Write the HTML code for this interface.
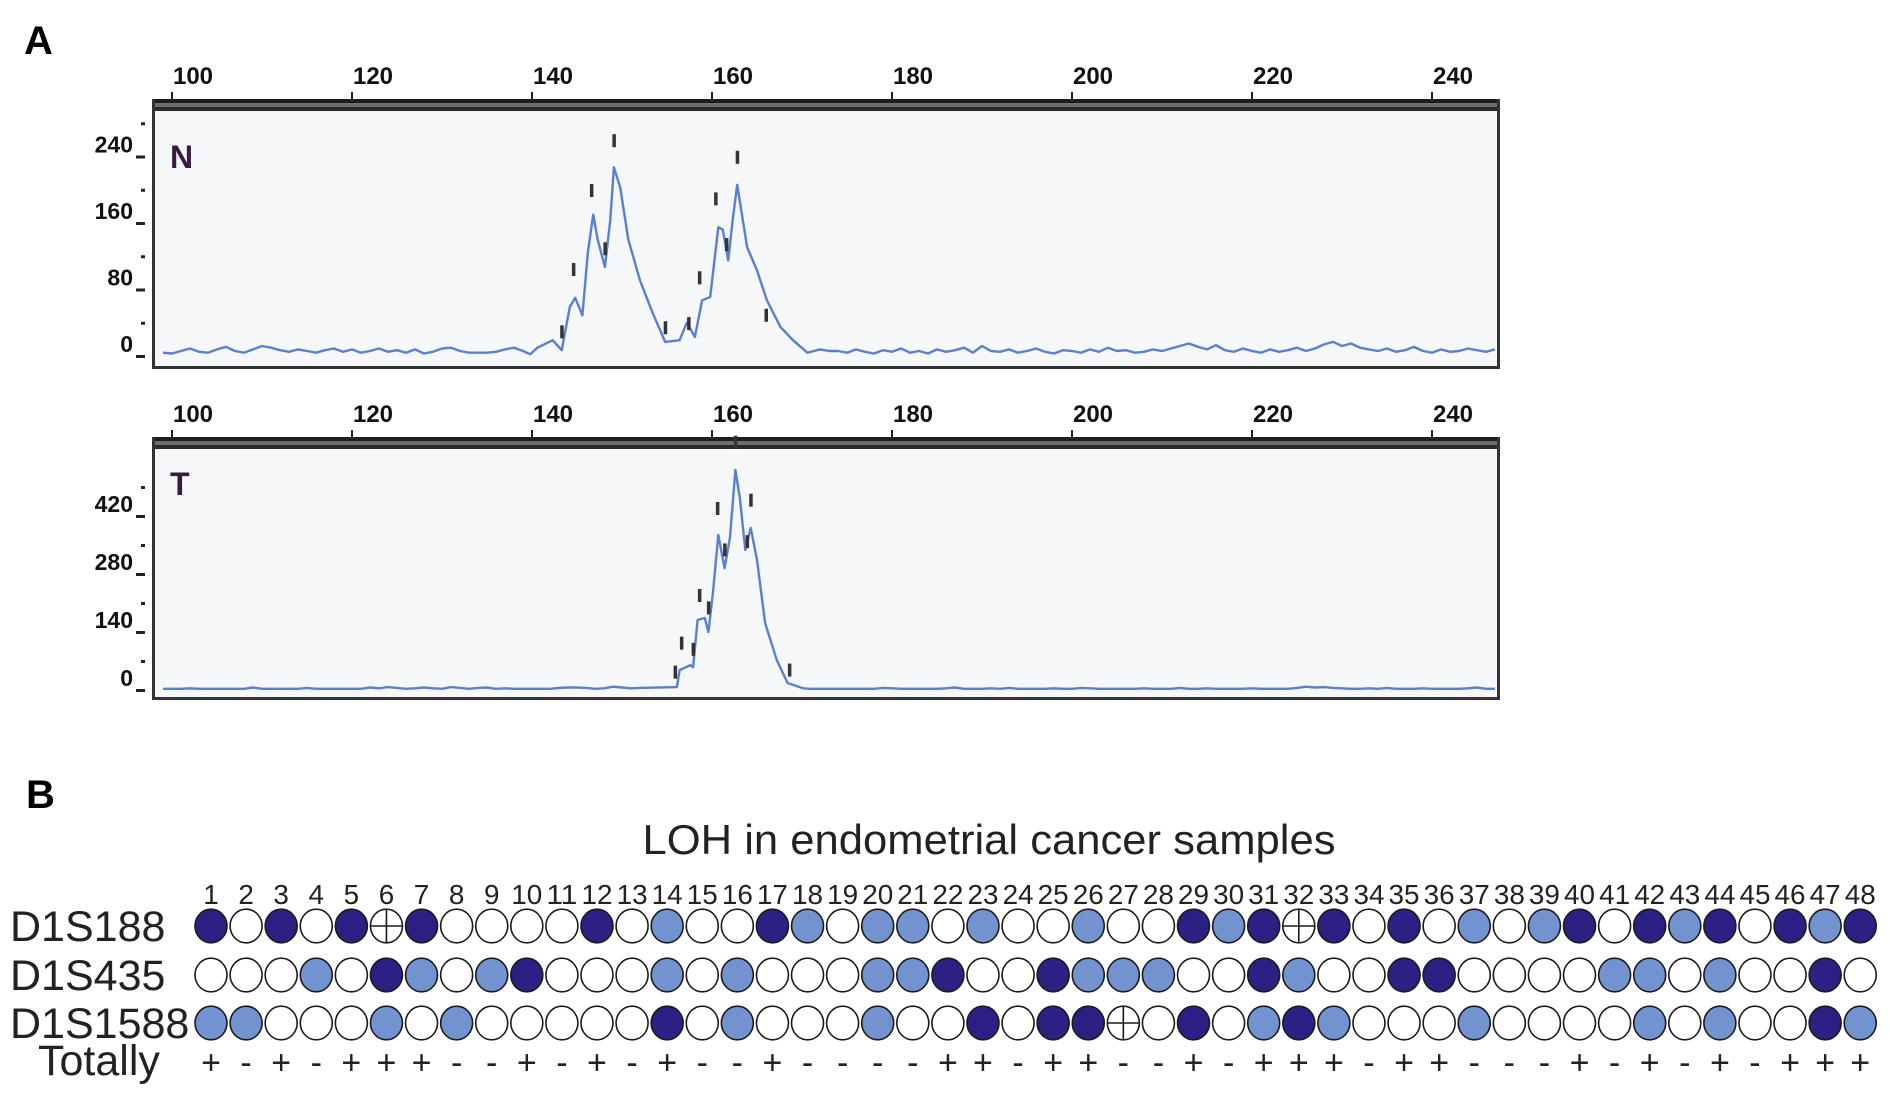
<!DOCTYPE html>
<html><head><meta charset="utf-8"><style>
html,body{margin:0;padding:0;background:#fff;}
svg{display:block;font-family:"Liberation Sans",Arial,sans-serif;}
</style></head><body>
<svg id="fig" width="1890" height="1099" viewBox="0 0 1890 1099">
<text x="24" y="54" font-size="40" font-weight="bold">A</text>
<text x="26" y="808" font-size="40" font-weight="bold">B</text>
<g id="chartN"></g>
<g id="chartT"></g>
<g id="loh"></g>
</svg>
<script>
// ---- Panel A data ----
const xTicks = [100,120,140,160,180,200,220,240];
const nYTicks = [0,80,160,240];
const tYTicks = [0,140,280,420];
const nLeftStart = 96;
const nLeftVals = [6,3,5,4,3,6,9,5,4,8,11,6,4,8,12,10,7,5,8,6,4,7,9,5,8,4,6,9,5,7,4,8,3,5,9,10,6,4,4,4,5,8,10,6];
const nPeakBp = [139.8,140.6,142.3,143.3,144.2,144.8,145.6,146.2,146.8,147.3,148.1,148.7,149.1,149.8,150.7,152,153.4,154.8,156.4,157.2,158.1,158.9,159.8,160.7,161.2,161.8,162.3,162.8,163.9,165,166.1,167.6,169,170.6,172,173];
const nPeakVals = [2,10,19,7,59,70,49,124,170,140,107,164,227,203,140,91,52,17,19,40,23,67,71,155,152,115,164,206,131,103,67,35,19,4,8,6];
const nRightStart = 174;
const nRightVals = [6,4,8,5,3,7,5,9,4,6,3,8,5,7,10,4,12,6,5,8,4,6,9,5,3,7,6,4,8,5,10,6,7,4,5,8,6,9,12,15,11,8,13,7,5,9,6,4,8,5,7,10,6,9,14,17,12,15,10,8,6,9,5,7,11,6,4,8,5,6,9,7,5,8];
const nMarkBp = [143.3,144.6,146.6,148.1,149.1,154.8,157.4,158.6,160.4,161.6,162.8,166];
const nMarkVals = [20,95,190,120,250,25,30,85,180,125,230,40];
const tLeftStart = 96;
const tLeftVals = [3,3,3,3,3,3,4,3,3,3,3,3,3,6,3,3,3,3,3,5,3,3,3,3,3,3,6,4,7,5,3,4,6,4,3,7,5,3,5,6,3,4,3,3,3,3,3,5,6,6,5,3,4,8,6,4];
const tPeakBp = [152,156.1,156.4,157.6,157.9,158.4,159.2,159.6,160.1,160.7,161.4,162,162.6,163.1,163.7,164.3,165,165.9,167.2,168.4,170.1];
const tPeakVals = [5,7,48,60,55,169,174,140,234,374,294,369,531,463,338,391,314,162,72,17,4];
const tRightStart = 171;
const tRightVals = [3,3,3,3,3,3,3,3,5,4,3,3,3,3,3,4,6,3,3,3,4,3,5,3,3,3,3,4,3,3,5,4,3,3,3,3,3,4,3,3,3,5,3,3,4,3,3,3,3,4,3,3,3,3,5,8,6,7,5,4,3,3,4,3,5,3,3,3,4,3,3,3,3,4,6,3,3];
const tMarkBp = [155.9,156.6,157.9,158.6,159.6,160.6,161.4,162.6,163.9,164.3,168.6];
const tMarkVals = [25,95,80,210,180,420,320,580,340,440,30];

const NS = 'http://www.w3.org/2000/svg';
function mk(tag, attrs, parent){const e=document.createElementNS(NS,tag);for(const k in attrs)e.setAttribute(k,attrs[k]);parent.appendChild(e);return e;}
const xS = bp => 172 + (bp-100)*9;

function drawPanel(g, cfg){
  const {top, bottom, yS, yTicks, minor, letter, segs, marks, markVals} = cfg;
  const bg = mk('rect',{x:153,y:top,width:1346,height:bottom-top,fill:'#f6f7f8'},g);
  
  
  mk('rect',{x:153,y:top-10,width:1346,height:12,fill:'#6e6e6e'},g);
  mk('rect',{x:153,y:top-10,width:1346,height:4,fill:'#1e1e1e'},g);
  mk('rect',{x:153,y:top-2,width:1346,height:4,fill:'#2a2a2a'},g);
  mk('rect',{x:152,y:top-10,width:3,height:bottom-top+13,fill:'#333'},g);
  mk('rect',{x:1497,y:top-10,width:3,height:bottom-top+13,fill:'#333'},g);
  mk('rect',{x:152,y:bottom,width:1348,height:3,fill:'#333'},g);
  xTicks.forEach(t=>{
    const x = xS(t);
    mk('rect',{x:x-1,y:top-17,width:2,height:8,fill:'#222'},g);
    const lb = mk('text',{x:x+21,y:top-25,'font-size':24,'text-anchor':'middle',fill:'#111','font-weight':'bold'},g);
    lb.textContent = t;
    
    
  });
  yTicks.forEach((t,i)=>{
    const y = yS(t);
    mk('rect',{x:136,y:y-1,width:9,height:3,fill:'#222'},g);
    const lb = mk('text',{x:133,y:y-4,'font-size':23,'text-anchor':'end',fill:'#111','font-weight':'bold'},g);
    lb.textContent = t;
    
    
    mk('rect',{x:141,y:yS(t+minor)-1,width:4,height:3,fill:'#222'},g);
  });
  const L = mk('text',{x:170,y:cfg.letterY,'font-size':32,'font-weight':'bold',fill:'#3a1a40'},g);
  L.textContent = letter;
  
  
  let pts = [];
  segs.forEach(s=>{
    if (s.start!==undefined) s.vals.forEach((v,i)=>pts.push([s.start+i, v]));
    else s.bp.forEach((b,i)=>pts.push([b, s.vals[i]]));
  });
  pts.sort((a,b)=>a[0]-b[0]);
  pts = pts.filter(p=>xS(p[0])>=156 && xS(p[0])<=1496);
  const d = pts.map((p,i)=>(i?'L':'M')+xS(p[0]).toFixed(1)+','+yS(p[1]).toFixed(1)).join('');
  const path = mk('path',{d:d,fill:'none',stroke:'#5b7fd0','stroke-width':2.4,'stroke-linejoin':'round'},g);
  
  
  marks.forEach((b,i)=>{
    const m = mk('rect',{x:xS(b)-1.5,y:yS(markVals[i])-14,width:3.5,height:13,fill:'#333'},g);
    
    
  });
}
drawPanel(document.getElementById('chartN'),{
  top:109,bottom:366,yS:v=>356-v*66.5/80,yTicks:nYTicks,minor:40,letter:'N',letterY:168,
  segs:[{start:nLeftStart,vals:nLeftVals},{bp:nPeakBp,vals:nPeakVals},{start:nRightStart,vals:nRightVals}],
  marks:nMarkBp,markVals:nMarkVals});
drawPanel(document.getElementById('chartT'),{
  top:447,bottom:697,yS:v=>690-v*58/140,yTicks:tYTicks,minor:70,letter:'T',letterY:495,
  segs:[{start:tLeftStart,vals:tLeftVals},{bp:tPeakBp,vals:tPeakVals},{start:tRightStart,vals:tRightVals}],
  marks:tMarkBp,markVals:tMarkVals});

// ---- Panel B data ----
const markers = ['D1S188','D1S435','D1S1588'];
// 0 = no LOH (white), 1 = light, 2 = dark, 3 = not informative (crossed)
const rowD1S188  = [2,0,2,0,2,3,2,0,0,0,0,2,0,1,0,0,2,1,0,1,1,0,1,0,0,1,0,0,2,1,2,3,2,0,2,0,1,0,1,2,0,2,1,2,0,2,1,2];
const rowD1S435  = [0,0,0,1,0,2,1,0,1,2,0,0,0,1,0,1,0,0,0,1,1,2,0,0,2,1,1,1,0,0,2,1,0,0,2,2,0,0,0,0,1,1,0,1,0,0,2,0];
const rowD1S1588 = [1,1,0,0,0,1,0,1,0,0,0,0,0,2,0,1,0,0,0,1,0,0,2,0,2,2,3,0,2,0,1,2,1,0,0,0,1,0,0,0,0,1,0,1,0,0,2,1];
const totally = ['+','-','+','-','+','+','+','-','-','+','-','+','-','+','-','-','+','-','-','-','-','+','+','-','+','+','-','-','+','-','+','+','+','-','+','+','-','-','-','+','-','+','-','+','-','+','+','+'];
const rows = [rowD1S188,rowD1S435,rowD1S1588];
const fills = ['#ffffff','#7392d0','#2b2185','#ffffff'];

const lg = document.getElementById('loh');
const cx = i => 211 + i*35.09;
const rowY = [926,975,1023];
const title = mk('text',{x:989,y:854,'font-size':42,'text-anchor':'middle',fill:'#222',textLength:693,lengthAdjust:'spacingAndGlyphs'},lg);
title.textContent = 'LOH in endometrial cancer samples';


totally.forEach((s,i)=>{
  const lab = String(i+1);
  const n = mk('text',{x:cx(i),y:904,'font-size':28,'text-anchor':'middle',fill:'#222',textLength:lab.length*15.5,lengthAdjust:'spacingAndGlyphs'},lg);
  n.textContent = lab;
  
  
});
markers.forEach((m,r)=>{
  const t = mk('text',{x:10,y:rowY[r]+15,'font-size':43,fill:'#222'},lg);
  t.textContent = m;
  
  
  rows[r].forEach((v,i)=>{
    const c = mk('ellipse',{cx:cx(i),cy:rowY[r],rx:16,ry:16.8,fill:fills[v],stroke:'#1a1a1a','stroke-width':1.6},lg);
    
    
    if (v===3){
      mk('line',{x1:cx(i)-16,y1:rowY[r],x2:cx(i)+16,y2:rowY[r],stroke:'#1a1a1a','stroke-width':1.6},lg);
      mk('line',{x1:cx(i),y1:rowY[r]-16.8,x2:cx(i),y2:rowY[r]+16.8,stroke:'#1a1a1a','stroke-width':1.6},lg);
    }
  });
});
const tl = mk('text',{x:38,y:1075,'font-size':43,fill:'#222'},lg);
tl.textContent = 'Totally';


totally.forEach((s,i)=>{
  const t = mk('text',{x:cx(i),y:1074,'font-size':34,'text-anchor':'middle',fill:'#222'},lg);
  t.textContent = s;
  
  
});
</script>
</body></html>
